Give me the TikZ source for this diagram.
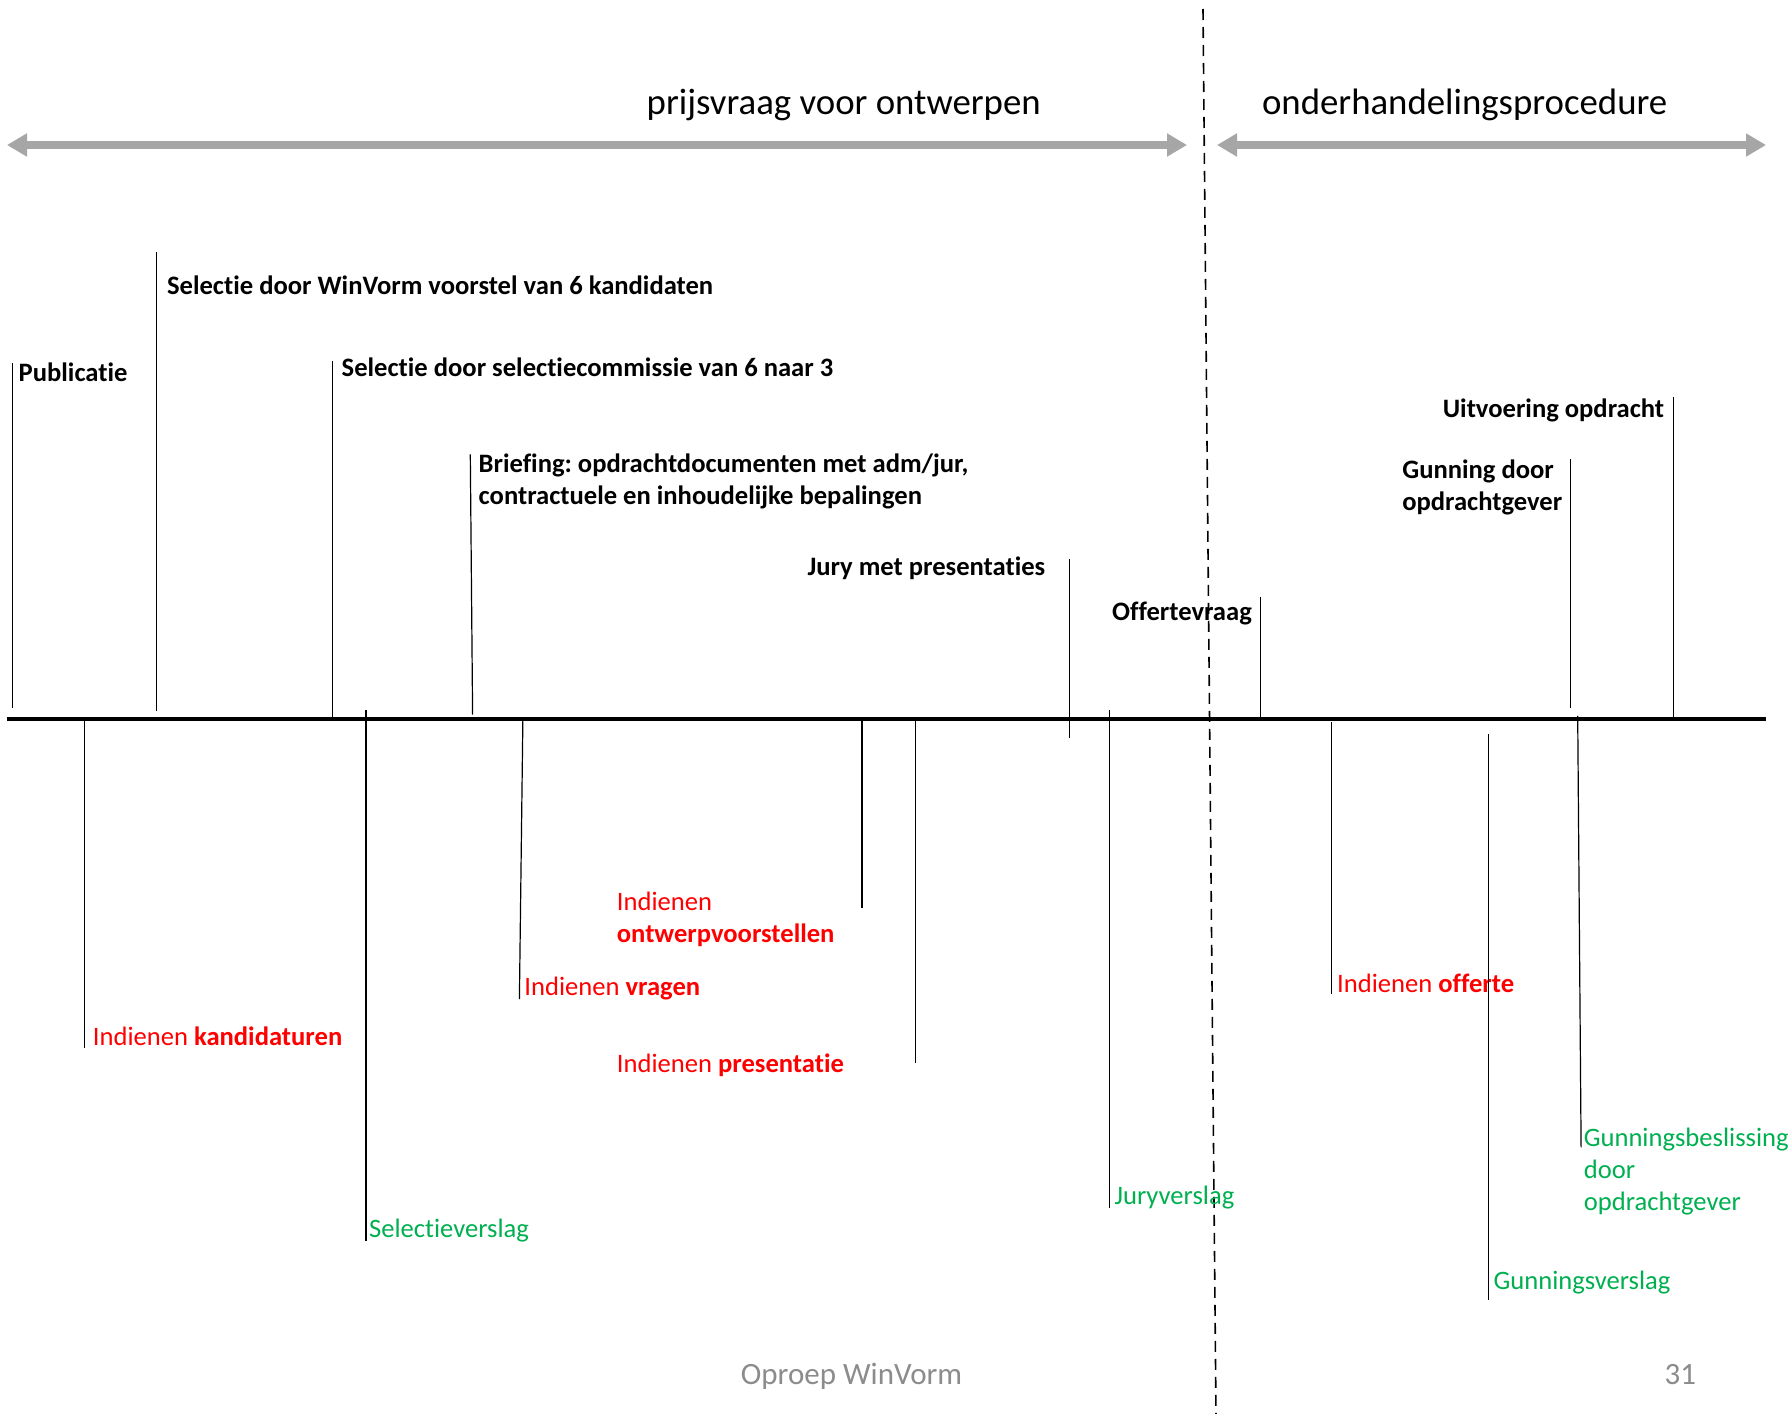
\documentclass[tikz,border=0pt]{standalone}
\usepackage{fontspec}
\setmainfont{Carlito}[Ligatures=NoCommon]
\usetikzlibrary{arrows.meta}
\definecolor{arrgray}{HTML}{A6A6A6}
\definecolor{rd}{HTML}{FF0000}
\definecolor{gn}{HTML}{00B050}
\definecolor{footgray}{HTML}{8C8C8C}
\newcommand\lblfont{\fontsize{13.3}{16}\selectfont}
\frenchspacing
\begin{document}
\frenchspacing
\begin{tikzpicture}[x=0.5pt,y=-0.5pt,
  tick/.style={line width=0.6pt, draw=black},
  lbl/.style={font=\lblfont, inner sep=0pt, anchor=base west},
  lblb/.style={lbl, font=\lblfont\bfseries},
  lblbr/.style={lblb, anchor=base east},
  redlbl/.style={lbl, text=rd},
  greenlbl/.style={lbl, text=gn},
  garrow/.style={draw=arrgray, line width=4pt,
    {Triangle[length=10pt,width=11pt]}-{Triangle[length=10pt,width=11pt]}},
  head/.style={font=\fontsize{18.4}{22}\selectfont, inner sep=0pt, anchor=base},
  foot/.style={font=\fontsize{15.5}{18}\selectfont, text=footgray, inner sep=0pt, anchor=base}
]
\useasboundingbox (0,0) rectangle (1790,1414);
\fill[white] (0,0) rectangle (1790,1414);

% headings and phase arrows
\node[head] (h1) at (843.7,114) {prijsvraag voor ontwerpen};
\node[head] (h2) at (1464.7,114) {onderhandelingsprocedure};
\coordinate (a1l) at (7,145);
\coordinate (a1r) at (1187,145);
\coordinate (a2l) at (1217,145);
\coordinate (a2r) at (1766,145);
\draw[garrow] (a1l) -- (a1r);
\draw[garrow] (a2l) -- (a2r);

% timeline
\coordinate (tl0) at (7,719);
\coordinate (tl1) at (1766,719);
\draw[line width=2pt] (tl0) -- (tl1);

% dashed separator
\coordinate (d0) at (1203,9);
\coordinate (d1) at (1216,1414);
\draw[line width=0.8pt, dash pattern=on 5.5pt off 3.5pt] (d0) -- (d1);

% ---- top events ----
\coordinate (t1a) at (12.6,363);   \coordinate (t1b) at (12.6,708);
\draw[tick] (t1a) -- (t1b);
\node[lblb] (publ) at (18.3,381) {Publicatie};

\coordinate (t2a) at (156.4,252); \coordinate (t2b) at (156.4,711);
\draw[tick] (t2a) -- (t2b);
\node[lblb] (selw) at (166.7,294.5) {Selectie door WinVorm voorstel van 6 kandidaten};

\coordinate (t3a) at (332.2,361); \coordinate (t3b) at (332.2,719);
\draw[tick] (t3a) -- (t3b);
\node[lblb] (sels) at (341.3,376.7) {Selectie door selectiecommissie van 6 naar 3};

\coordinate (t4a) at (470.3,454.4); \coordinate (t4b) at (472.6,714.6);
\draw[tick] (t4a) -- (t4b);
\node[lblb] (brief) at (478.3,472.6) {\begin{tabular}[t]{@{}l@{}}Briefing: opdrachtdocumenten met adm/jur,\\contractuele en inhoudelijke bepalingen\end{tabular}};

\coordinate (t5a) at (1069.7,559.4); \coordinate (t5b) at (1069.7,737.5);
\draw[tick] (t5a) -- (t5b);
\node[lblbr] (jury) at (1045.7,575.4) {Jury met presentaties};

\coordinate (t6a) at (1260.3,597.1); \coordinate (t6b) at (1260.3,719);
\draw[tick] (t6a) -- (t6b);
\node[lblbr] (offv) at (1252.3,620) {Offertevraag};

\coordinate (t7a) at (1570.8,458.9); \coordinate (t7b) at (1570.8,707.8);
\draw[tick] (t7a) -- (t7b);
\node[lblb] (gunn) at (1401.9,478.3) {\begin{tabular}[t]{@{}l@{}}Gunning door\\opdrachtgever\end{tabular}};

\coordinate (t8a) at (1673.6,397.3); \coordinate (t8b) at (1673.6,719);
\draw[tick] (t8a) -- (t8b);
\node[lblbr] (uitv) at (1664.5,417.8) {Uitvoering opdracht};

% ---- bottom events ----
\coordinate (b1a) at (84.5,719); \coordinate (b1b) at (84.5,1048);
\draw[tick] (b1a) -- (b1b);
\node[redlbl] (kand) at (92.5,1045.7) {Indienen \textbf{kandidaturen}};

\coordinate (b2a) at (365.9,710); \coordinate (b2b) at (365.9,1241);
\draw[tick] (b2a) -- (b2b);
\node[greenlbl] (selv) at (368.7,1237.5) {Selectieverslag};

\coordinate (b3a) at (522.9,717); \coordinate (b3b) at (519.4,999);
\draw[tick] (b3a) -- (b3b);
\node[redlbl] (vrag) at (524,995.5) {Indienen \textbf{vragen}};

\coordinate (b4a) at (861.9,719); \coordinate (b4b) at (861.9,907.6);
\draw[tick] (b4a) -- (b4b);
\node[redlbl] (ontw) at (616.5,910) {\begin{tabular}[t]{@{}l@{}}Indienen\\\textbf{ontwerpvoorstellen}\end{tabular}};

\coordinate (b5a) at (915.6,719); \coordinate (b5b) at (915.6,1062.8);
\draw[tick] (b5a) -- (b5b);
\node[redlbl] (pres) at (616.5,1072) {Indienen \textbf{presentatie}};

\coordinate (b6a) at (1109.6,710); \coordinate (b6b) at (1109.6,1207.8);
\draw[tick] (b6a) -- (b6b);
\node[greenlbl] (juryv) at (1114.2,1204.4) {Juryverslag};

\coordinate (b7a) at (1331.1,721.5); \coordinate (b7b) at (1331.1,994.3);
\draw[tick] (b7a) -- (b7b);
\node[redlbl] (offe) at (1336.8,992) {Indienen \textbf{offerte}};

\coordinate (b8a) at (1488.6,734); \coordinate (b8b) at (1488.6,1300.3);
\draw[tick] (b8a) -- (b8b);
\node[greenlbl] (gunv) at (1493.2,1289) {Gunningsverslag};

\coordinate (b9a) at (1577.7,715.8); \coordinate (b9b) at (1581.1,1147.3);
\draw[tick] (b9a) -- (b9b);
\node[greenlbl] (gunb) at (1583.4,1146) {\begin{tabular}[t]{@{}l@{}}Gunningsbeslissing\\door\\opdrachtgever\end{tabular}};

% footer
\node[foot] (oproep) at (851.6,1384.5) {Oproep WinVorm};
\node[foot] (pnum) at (1680.4,1384.5) {31};
\end{tikzpicture}
\end{document}
